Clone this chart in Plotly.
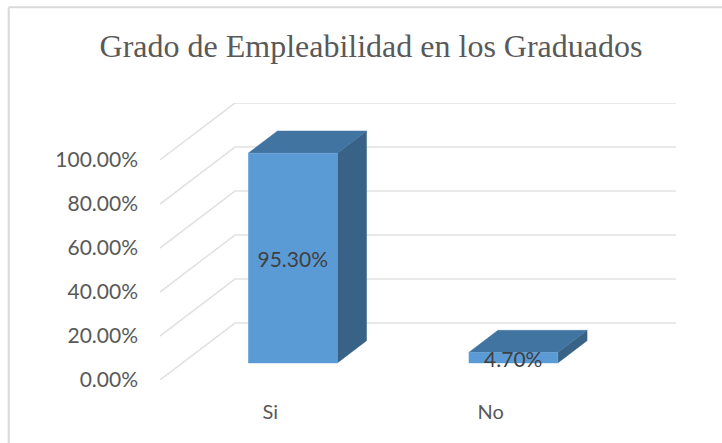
import plotly.graph_objects as go

TITLE = "Grado de Empleabilidad en los Graduados"
categories = ["Si", "No"]
values = [95.30, 4.70]
value_labels = ["95.30%", "4.70%"]
y_ticks = [0, 20, 40, 60, 80, 100]
y_tick_labels = ["0.00%", "20.00%", "40.00%", "60.00%", "80.00%", "100.00%"]

# oblique projection of the 3D box, in axis units per unit of depth
DEPTH_X = 0.34
DEPTH_Y = 25.9
BAR_WIDTH = 0.404
BAR_FRONT = 0.30
BAR_BACK = 0.69
X_LEFT = -0.5
X_RIGHT = 1.84
Y_TOP = 125.9
LABEL_DROP = 1.7


def project(x, value, depth):
    """Move a point of the front plane back along the depth direction."""
    return x + depth * DEPTH_X, value + depth * DEPTH_Y


def add_polygon(fig, corners, color):
    xs = [c[0] for c in corners]
    ys = [c[1] for c in corners]
    fig.add_trace(
        go.Scatter(
            x=xs,
            y=ys,
            mode="lines",
            fill="toself",
            fillcolor=color,
            line=dict(color=color, width=0.5),
            hoverinfo="skip",
        )
    )


fig = go.Figure()

# walls: each gridline runs back from the front edge, then along the back wall
for tick in y_ticks:
    corner = project(X_LEFT, tick, 1)
    fig.add_trace(
        go.Scatter(
            x=[X_LEFT, corner[0], X_RIGHT],
            y=[tick, corner[1], corner[1]],
            mode="lines",
            line=dict(color="#E2E2E2", width=1.6),
            hoverinfo="skip",
        )
    )

positions = list(range(len(categories)))

for pos, value in zip(positions, values):
    left = pos - BAR_WIDTH / 2
    right = pos + BAR_WIDTH / 2
    # side face
    add_polygon(
        fig,
        [
            project(right, 0, BAR_FRONT),
            project(right, 0, BAR_BACK),
            project(right, value, BAR_BACK),
            project(right, value, BAR_FRONT),
        ],
        "#386387",
    )
    # top face
    add_polygon(
        fig,
        [
            project(left, value, BAR_FRONT),
            project(left, value, BAR_BACK),
            project(right, value, BAR_BACK),
            project(right, value, BAR_FRONT),
        ],
        "#4274A1",
    )
    # front face
    add_polygon(
        fig,
        [
            project(left, 0, BAR_FRONT),
            project(right, 0, BAR_FRONT),
            project(right, value, BAR_FRONT),
            project(left, value, BAR_FRONT),
        ],
        "#5B9BD5",
    )

# data labels in the middle of the front faces
fig.add_trace(
    go.Scatter(
        x=[project(pos, 0, BAR_FRONT)[0] for pos in positions],
        y=[
            project(pos, value / 2, BAR_FRONT)[1] - LABEL_DROP
            for pos, value in zip(positions, values)
        ],
        mode="text",
        text=value_labels,
        textposition="middle center",
        textfont=dict(family="Lato", size=21, color="#404040"),
        hoverinfo="skip",
    )
)

fig.update_layout(
    title=dict(
        text=TITLE,
        x=371 / 722,
        xanchor="center",
        y=1 - 46 / 443,
        yanchor="middle",
        font=dict(family="Liberation Serif", size=32, color="#595959"),
    ),
    width=722,
    height=443,
    margin=dict(l=160, r=46, t=103, b=63),
    autosize=False,
    showlegend=False,
    paper_bgcolor="white",
    plot_bgcolor="white",
    xaxis=dict(
        range=[X_LEFT, X_RIGHT],
        tickmode="array",
        tickvals=positions,
        ticktext=categories,
        showgrid=False,
        zeroline=False,
        showline=False,
        ticks="",
        ticklabelstandoff=18,
        tickfont=dict(family="Lato", size=20, color="#595959"),
    ),
    yaxis=dict(
        range=[0, Y_TOP],
        tickmode="array",
        tickvals=y_ticks,
        ticktext=y_tick_labels,
        showgrid=False,
        zeroline=False,
        showline=False,
        ticks="",
        ticklabelstandoff=21,
        tickfont=dict(family="Lato", size=21, color="#595959"),
    ),
    # only the left and top edges of the chart frame are inside the picture
    shapes=[
        dict(
            type="line",
            xref="paper",
            yref="paper",
            x0=(8.7 - 160) / 516,
            x1=(8.7 - 160) / 516,
            y0=(380 - 443) / 277,
            y1=(380 - 7.3) / 277,
            line=dict(color="#D9D9D9", width=2),
            layer="below",
        ),
        dict(
            type="line",
            xref="paper",
            yref="paper",
            x0=(8.7 - 160) / 516,
            x1=(722 - 160) / 516,
            y0=(380 - 7.3) / 277,
            y1=(380 - 7.3) / 277,
            line=dict(color="#D9D9D9", width=2),
            layer="below",
        ),
    ],
)

fig.write_html(
    "out.html",
    config={"displayModeBar": False},
    post_script="document.body.style.margin = '0';",
)
